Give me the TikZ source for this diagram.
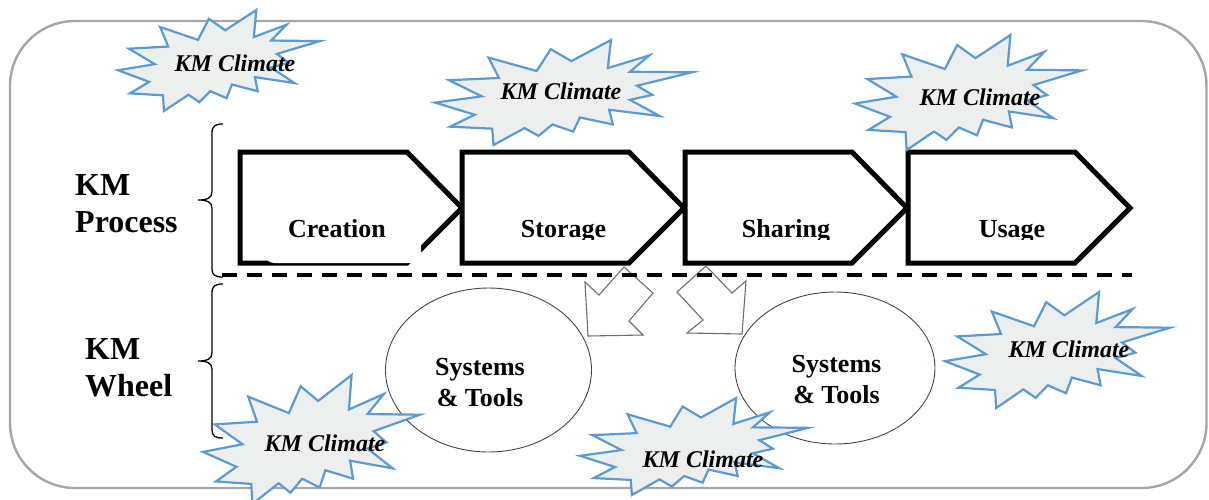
\documentclass[tikz,border=0pt]{standalone}
\usepackage{fontspec}
\setmainfont{Liberation Serif}
\usetikzlibrary{shapes.geometric}

\definecolor{framegray}{RGB}{166,166,166}
\definecolor{burstblue}{RGB}{91,155,213}
\definecolor{burstfill}{RGB}{237,239,239}
\definecolor{arrowgray}{RGB}{110,110,110}
\definecolor{ringgray}{RGB}{70,70,70}

% "Explosion" outline on a 21.6 x 21.6 grid, scaled into the box (x0,y0,w,h)
\newcommand\kmburst[4]{%
  \begin{scope}[shift={(#1,#2)}, xscale=#3/21.6, yscale=#4/21.6]
    \draw[burst] (11.462,4.342) -- (14.790,0) -- (14.525,5.777) -- (18.007,3.172)
      -- (16.380,6.532) -- (21.600,6.645) -- (16.985,9.402) -- (18.270,11.290)
      -- (16.380,12.310) -- (18.877,15.632) -- (14.640,14.350) -- (14.942,17.370)
      -- (12.180,15.935) -- (11.612,18.842) -- (9.872,17.370) -- (8.700,19.712)
      -- (7.527,18.125) -- (4.917,21.600) -- (4.805,18.240) -- (1.285,17.825)
      -- (3.330,15.370) -- (0,12.877) -- (3.935,11.592) -- (1.172,8.270)
      -- (5.372,7.817) -- (4.502,3.625) -- (8.550,6.382) -- (9.722,1.887) -- cycle;
  \end{scope}}

\begin{document}
\begin{tikzpicture}[x=1pt, y=-1pt,
  frame/.style={draw=framegray, line width=2.4pt, rounded corners=65pt},
  stepbox/.style={draw=black, line width=5pt, line join=miter, fill=white},
  steplabel/.style={font=\bfseries\fontsize{26}{30}\selectfont, anchor=base, inner sep=0pt},
  sidelabel/.style={font=\bfseries\fontsize{32}{37}\selectfont, align=left, anchor=base west, inner sep=0pt},
  toollabel/.style={font=\bfseries\fontsize{26}{31}\selectfont, align=center, anchor=base, inner sep=0pt},
  ring/.style={ellipse, draw=ringgray, line width=0.9pt, inner sep=0pt},
  blockarrow/.style={draw=arrowgray, line width=1.1pt, fill=white, line join=miter},
  divider/.style={draw=black, line width=4pt, dash pattern=on 15pt off 10pt},
  bracket/.style={draw=black, line width=1.3pt},
  burst/.style={draw=burstblue, fill=burstfill, line width=2.2pt, line join=miter},
  climate/.style={font=\bfseries\itshape\fontsize{24}{28}\selectfont, inner sep=0pt}
]
\useasboundingbox (0,0) rectangle (1209,499);
\begin{scope}
\clip (0,0) rectangle (1209,499);

% outer frame
\draw[frame] (10,21) rectangle (1206.5,488);

% process steps
\foreach \x in {240,462,685,908}{
  \draw[stepbox] (\x,152) -- ++(167,0) -- ++(55,56) -- ++(-55,55) -- ++(-167,0) -- cycle;
}
% white text box lying over the first step
\fill[white, rounded corners=11pt] (263.5,180) rectangle (421,263);

\begin{scope}
  \clip (230,150) rectangle (1140,239.5);
  \node[steplabel] (creation) at (337,237.5) {Creation};
  \node[steplabel] (storage)  at (563.5,237.5) {Storage};
  \node[steplabel] (sharing)  at (786,237.5) {Sharing};
  \node[steplabel] (usage)    at (1012,237.5) {Usage};
\end{scope}

% wheel
\node[ring, minimum width=206pt, minimum height=164pt] (ring1) at (488.5,370) {};
\node[ring, minimum width=200pt, minimum height=152pt] (ring2) at (835,368) {};
\node[toollabel] (tools1) at (480,406) {Systems\\\& Tools};
\node[toollabel] (tools2) at (836.5,403) {Systems\\\& Tools};

% block arrows from the process into the wheel
\draw[blockarrow] (624,267) -- (653,293) -- (629,321) -- (643,335) -- (588,336)
  -- (585,282) -- (599,295) -- cycle;
\draw[blockarrow] (706,266) -- (732,293) -- (746,281) -- (742,334) -- (687,333)
  -- (703,320) -- (677,292) -- cycle;

% divider between process and wheel
\coordinate (divL) at (222,275);
\coordinate (divR) at (1132,275);
\draw[divider] (divL) -- (divR);

% climate bursts
\kmburst{118}{10}{202}{101}
\kmburst{435}{40}{257}{105}
\kmburst{855}{35}{227}{115}
\kmburst{945}{292}{225}{116}
\kmburst{203}{375}{217}{129}
\kmburst{580}{398}{228}{97}
\node[climate] (clim1) at (235,63)  {KM Climate};
\node[climate] (clim2) at (561,91)  {KM Climate};
\node[climate] (clim3) at (980,97)  {KM Climate};
\node[climate] (clim4) at (1069,349) {KM Climate};
\node[climate] (clim5) at (325,443) {KM Climate};
\node[climate] (clim6) at (703,459) {KM Climate};

% side labels and braces
\node[sidelabel] (kmprocess) at (75,232) {KM\\Process};
\node[sidelabel] (kmwheel)   at (85,396) {KM\\Wheel};
\draw[bracket] (223,124) .. controls (215,124) and (212,126) .. (212,133) -- (212,192)
  .. controls (212,198) and (207,200) .. (198,200)
  .. controls (207,200) and (212,202) .. (212,208) -- (212,269)
  .. controls (212,275) and (215,277) .. (223,277);
\draw[bracket] (223,284) .. controls (215,284) and (212,286) .. (212,293) -- (212,353)
  .. controls (212,359) and (207,361) .. (198,361)
  .. controls (207,361) and (212,363) .. (212,369) -- (212,430)
  .. controls (212,436) and (215,438) .. (223,438);
\end{scope}
\end{tikzpicture}
\end{document}
